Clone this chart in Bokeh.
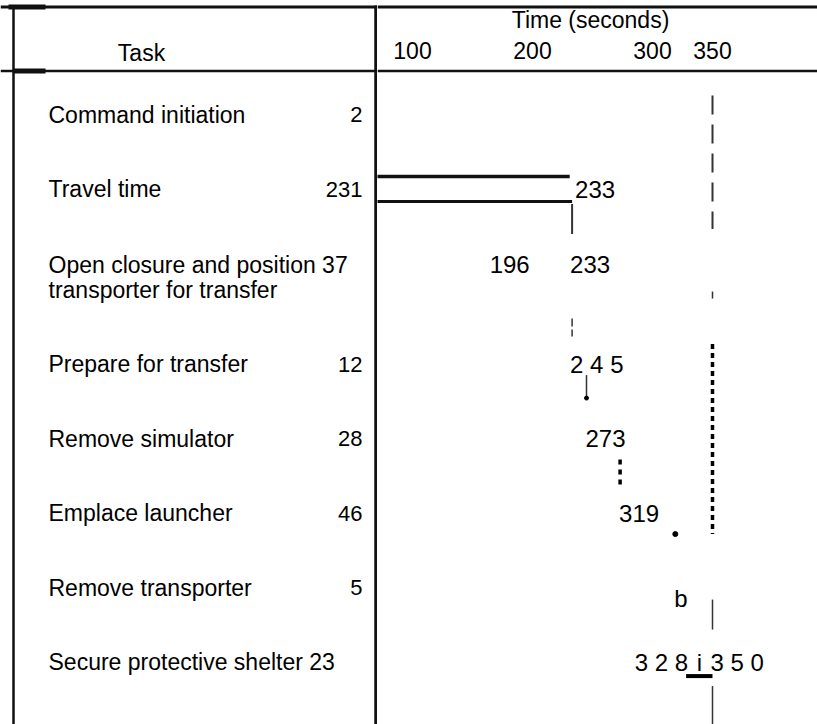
from bokeh.plotting import figure
from bokeh.models import Range1d, Span
from bokeh.layouts import row
from bokeh.core.properties import value
from bokeh.embed import file_html
from bokeh.resources import INLINE

# ---------------- data (as printed in the chart) ----------------
tasks = ["Command initiation", "Travel time",
         "Open closure and position\ntransporter for transfer",
         "Prepare for transfer", "Remove simulator", "Emplace launcher",
         "Remove transporter", "Secure protective shelter"]
durations = [2, 231, 37, 12, 28, 46, 5, 23]
starts = [0, 2, 196, 233, 245, 273, 319, 328]
ends = [2, 233, 233, 245, 273, 319, 324, 350]
end_labels = ["", "233", "233", "2 4 5", "273", "319", "b", "3 5 0"]
start_labels = ["", "", "196", "", "", "", "", "3 2 8"]
mid_labels = ["", "", "", "", "", "", "", "i"]
tick_values = [100, 200, 300, 350]
tick_labels = ["100", "200", "300", "350"]
x_title = "Time (seconds)"
task_title = "Task"
total_time = 350

# ---------------- layout / style ----------------
INK = "#000000"
LINE = "#111111"
THIN = "#333333"
REG = value("Liberation Sans")

W_LEFT, W_RIGHT, H = 377, 440, 724
PX = 74.5                      # pixels per row unit
Y_MAX = H / PX
row_h = [1, 1, 1.35, 1, 1, 1, 1, 1]
centers = [114 / PX]
for j in range(1, len(row_h)):
    centers.append(centers[-1] + (row_h[j - 1] + row_h[j]) / 2)


def rc(i, off_px=0.0):
    return centers[i] + off_px / PX


PPS = 1.2                      # pixels per second on the time scale
T_START = (W_LEFT - 292) / PPS
T_END = T_START + W_RIGHT / PPS


def base_fig(w, xr):
    p = figure(width=w, height=H, x_range=xr, y_range=Range1d(Y_MAX, 0),
               output_backend="svg", toolbar_location=None,
               x_axis_location=None, y_axis_location=None,
               min_border=0, min_border_left=0, min_border_right=0,
               min_border_top=0, min_border_bottom=0)
    p.outline_line_color = None
    p.grid.visible = False
    p.background_fill_color = "white"
    p.border_fill_color = "white"
    return p


# ---------------- left panel: task table ----------------
pl = base_fig(W_LEFT, Range1d(0, W_LEFT))
pl.add_layout(Span(location=6.5 / PX, dimension="width", line_color=LINE, line_width=3))
pl.add_layout(Span(location=70.5 / PX, dimension="width", line_color=LINE, line_width=2.5))
pl.segment(x0=[8, 13], y0=[6.5 / PX, 70.5 / PX], x1=[45, 45], y1=[6.5 / PX, 70.5 / PX],
           line_color=LINE, line_width=5)
pl.segment(x0=[13, 375.5], y0=[6 / PX, 5 / PX], x1=[13, 375.5], y1=[Y_MAX, Y_MAX],
           line_color=LINE, line_width=[2.5, 3.5])

pl.text(x=[141], y=[52 / PX], text=[task_title], text_font=REG,
        text_font_size="23px", text_align="center", text_baseline="middle", text_color=INK)

name_x, name_y, name_t = [], [], []
dur_x, dur_y, dur_t = [], [], []
for i, name in enumerate(tasks):
    lines = name.split("\n")
    inline = len(lines[0]) > 20
    first = lines[0] + (" " + str(durations[i]) if inline else "")
    if len(lines) == 1:
        name_x.append(48); name_y.append(rc(i)); name_t.append(first)
    else:
        name_x += [48, 48]
        name_y += [rc(i, -12), rc(i, 13)]
        name_t += [first, lines[1]]
    if not inline:
        dur_x.append(362); dur_y.append(rc(i)); dur_t.append(str(durations[i]))

pl.text(x=name_x, y=name_y, text=name_t, text_font=REG, text_font_size="23px",
        text_align="left", text_baseline="middle", text_color=INK)
pl.text(x=dur_x, y=dur_y, text=dur_t, text_font=REG, text_font_size="22px",
        text_align="right", text_baseline="middle", text_color=INK)

# ---------------- right panel: time chart ----------------
pr = base_fig(W_RIGHT, Range1d(T_START, T_END))
pr.add_layout(Span(location=6.5 / PX, dimension="width", line_color=LINE, line_width=3))
pr.add_layout(Span(location=70.5 / PX, dimension="width", line_color=LINE, line_width=2.5))

# header
pr.text(x=[T_START + (590 - W_LEFT) / PPS], y=[19 / PX], text=[x_title], text_font=REG,
        text_font_size="23px", text_align="center", text_baseline="middle", text_color=INK)
pr.text(x=tick_values, y=[50 / PX] * len(tick_values), text=tick_labels, text_font=REG,
        text_font_size="23px", text_align="center", text_baseline="middle", text_color=INK)

# travel time bar (open bar: top and bottom edges)
pr.segment(x0=[starts[1], starts[1]], y0=[rc(1, -12.5), rc(1, 12.5)],
           x1=[ends[1] - 2, ends[1]], y1=[rc(1, -12.5), rc(1, 12.5)],
           line_color=LINE, line_width=[3.5, 3])
pr.segment(x0=[ends[1]], y0=[rc(1, 15)], x1=[ends[1]], y1=[rc(1, 45)],
           line_color=THIN, line_width=2)

# end-time connectors
pr.segment(x0=[ends[2]], y0=[rc(2, 42)], x1=[ends[2]], y1=[rc(2, 60)],
           line_color=THIN, line_width=1.5, line_dash="8 3")
pr.segment(x0=[ends[3]], y0=[rc(3, 11)], x1=[ends[3]], y1=[rc(3, 33)],
           line_color=THIN, line_width=1.5)
pr.scatter(x=[ends[3]], y=[rc(3, 34)], size=4, marker="circle", color=INK)
pr.segment(x0=[ends[4]], y0=[rc(4, 21)], x1=[ends[4]], y1=[rc(4, 49)],
           line_color=INK, line_width=3.5, line_dash="5 5")
pr.scatter(x=[ends[5]], y=[rc(5, 21)], size=5, marker="circle", color=INK)

# secure protective shelter bar
pr.segment(x0=[starts[7]], y0=[rc(7, 14)], x1=[ends[7]], y1=[rc(7, 14)],
           line_color=INK, line_width=4)

# total-time reference line at 350 s
pr.segment(x0=[total_time], y0=[rc(0, -19)], x1=[total_time], y1=[rc(1, 40)],
           line_color=THIN, line_width=2, line_dash="19 10")
pr.segment(x0=[total_time] * 3, y0=[rc(2, 15), rc(6, 12), rc(7, 24)],
           x1=[total_time] * 3, y1=[rc(2, 22), rc(6, 42), rc(7, 62)],
           line_color=THIN, line_width=1.5)
pr.segment(x0=[total_time], y0=[rc(3, -20)], x1=[total_time], y1=[rc(5, 21)],
           line_color=INK, line_width=3.5, line_dash="5 4")

# time labels
NUM = dict(text_font=REG, text_font_size="24px", text_baseline="middle", text_color=INK)
pr.text(x=[ends[1]], y=[rc(1)], text=[end_labels[1]], text_align="left", x_offset=3, **NUM)
pr.text(x=[starts[2]], y=[rc(2, -12)], text=[start_labels[2]], text_align="right", x_offset=2, **NUM)
pr.text(x=[ends[2]], y=[rc(2, -12)], text=[end_labels[2]], text_align="left", x_offset=-2, **NUM)
pr.text(x=[starts[3]], y=[rc(3)], text=[end_labels[3]], text_align="left", x_offset=-2, **NUM)
pr.text(x=[starts[4]], y=[rc(4)], text=[end_labels[4]], text_align="left", x_offset=-1, **NUM)
pr.text(x=[starts[5]], y=[rc(5)], text=[end_labels[5]], text_align="left", x_offset=-1, **NUM)
pr.text(x=[starts[6]], y=[rc(6, 11)], text=[end_labels[6]], text_align="left", x_offset=-1, **NUM)
pr.text(x=[starts[7]], y=[rc(7)], text=[start_labels[7]], text_align="right", x_offset=2, **NUM)
pr.text(x=[(starts[7] + ends[7]) / 2], y=[rc(7)], text=[mid_labels[7]], text_align="center", **NUM)
pr.text(x=[ends[7]], y=[rc(7)], text=[end_labels[7]], text_align="left", x_offset=-2, **NUM)

layout = row(pl, pr)
open("out.html", "w").write(file_html(layout, INLINE))
